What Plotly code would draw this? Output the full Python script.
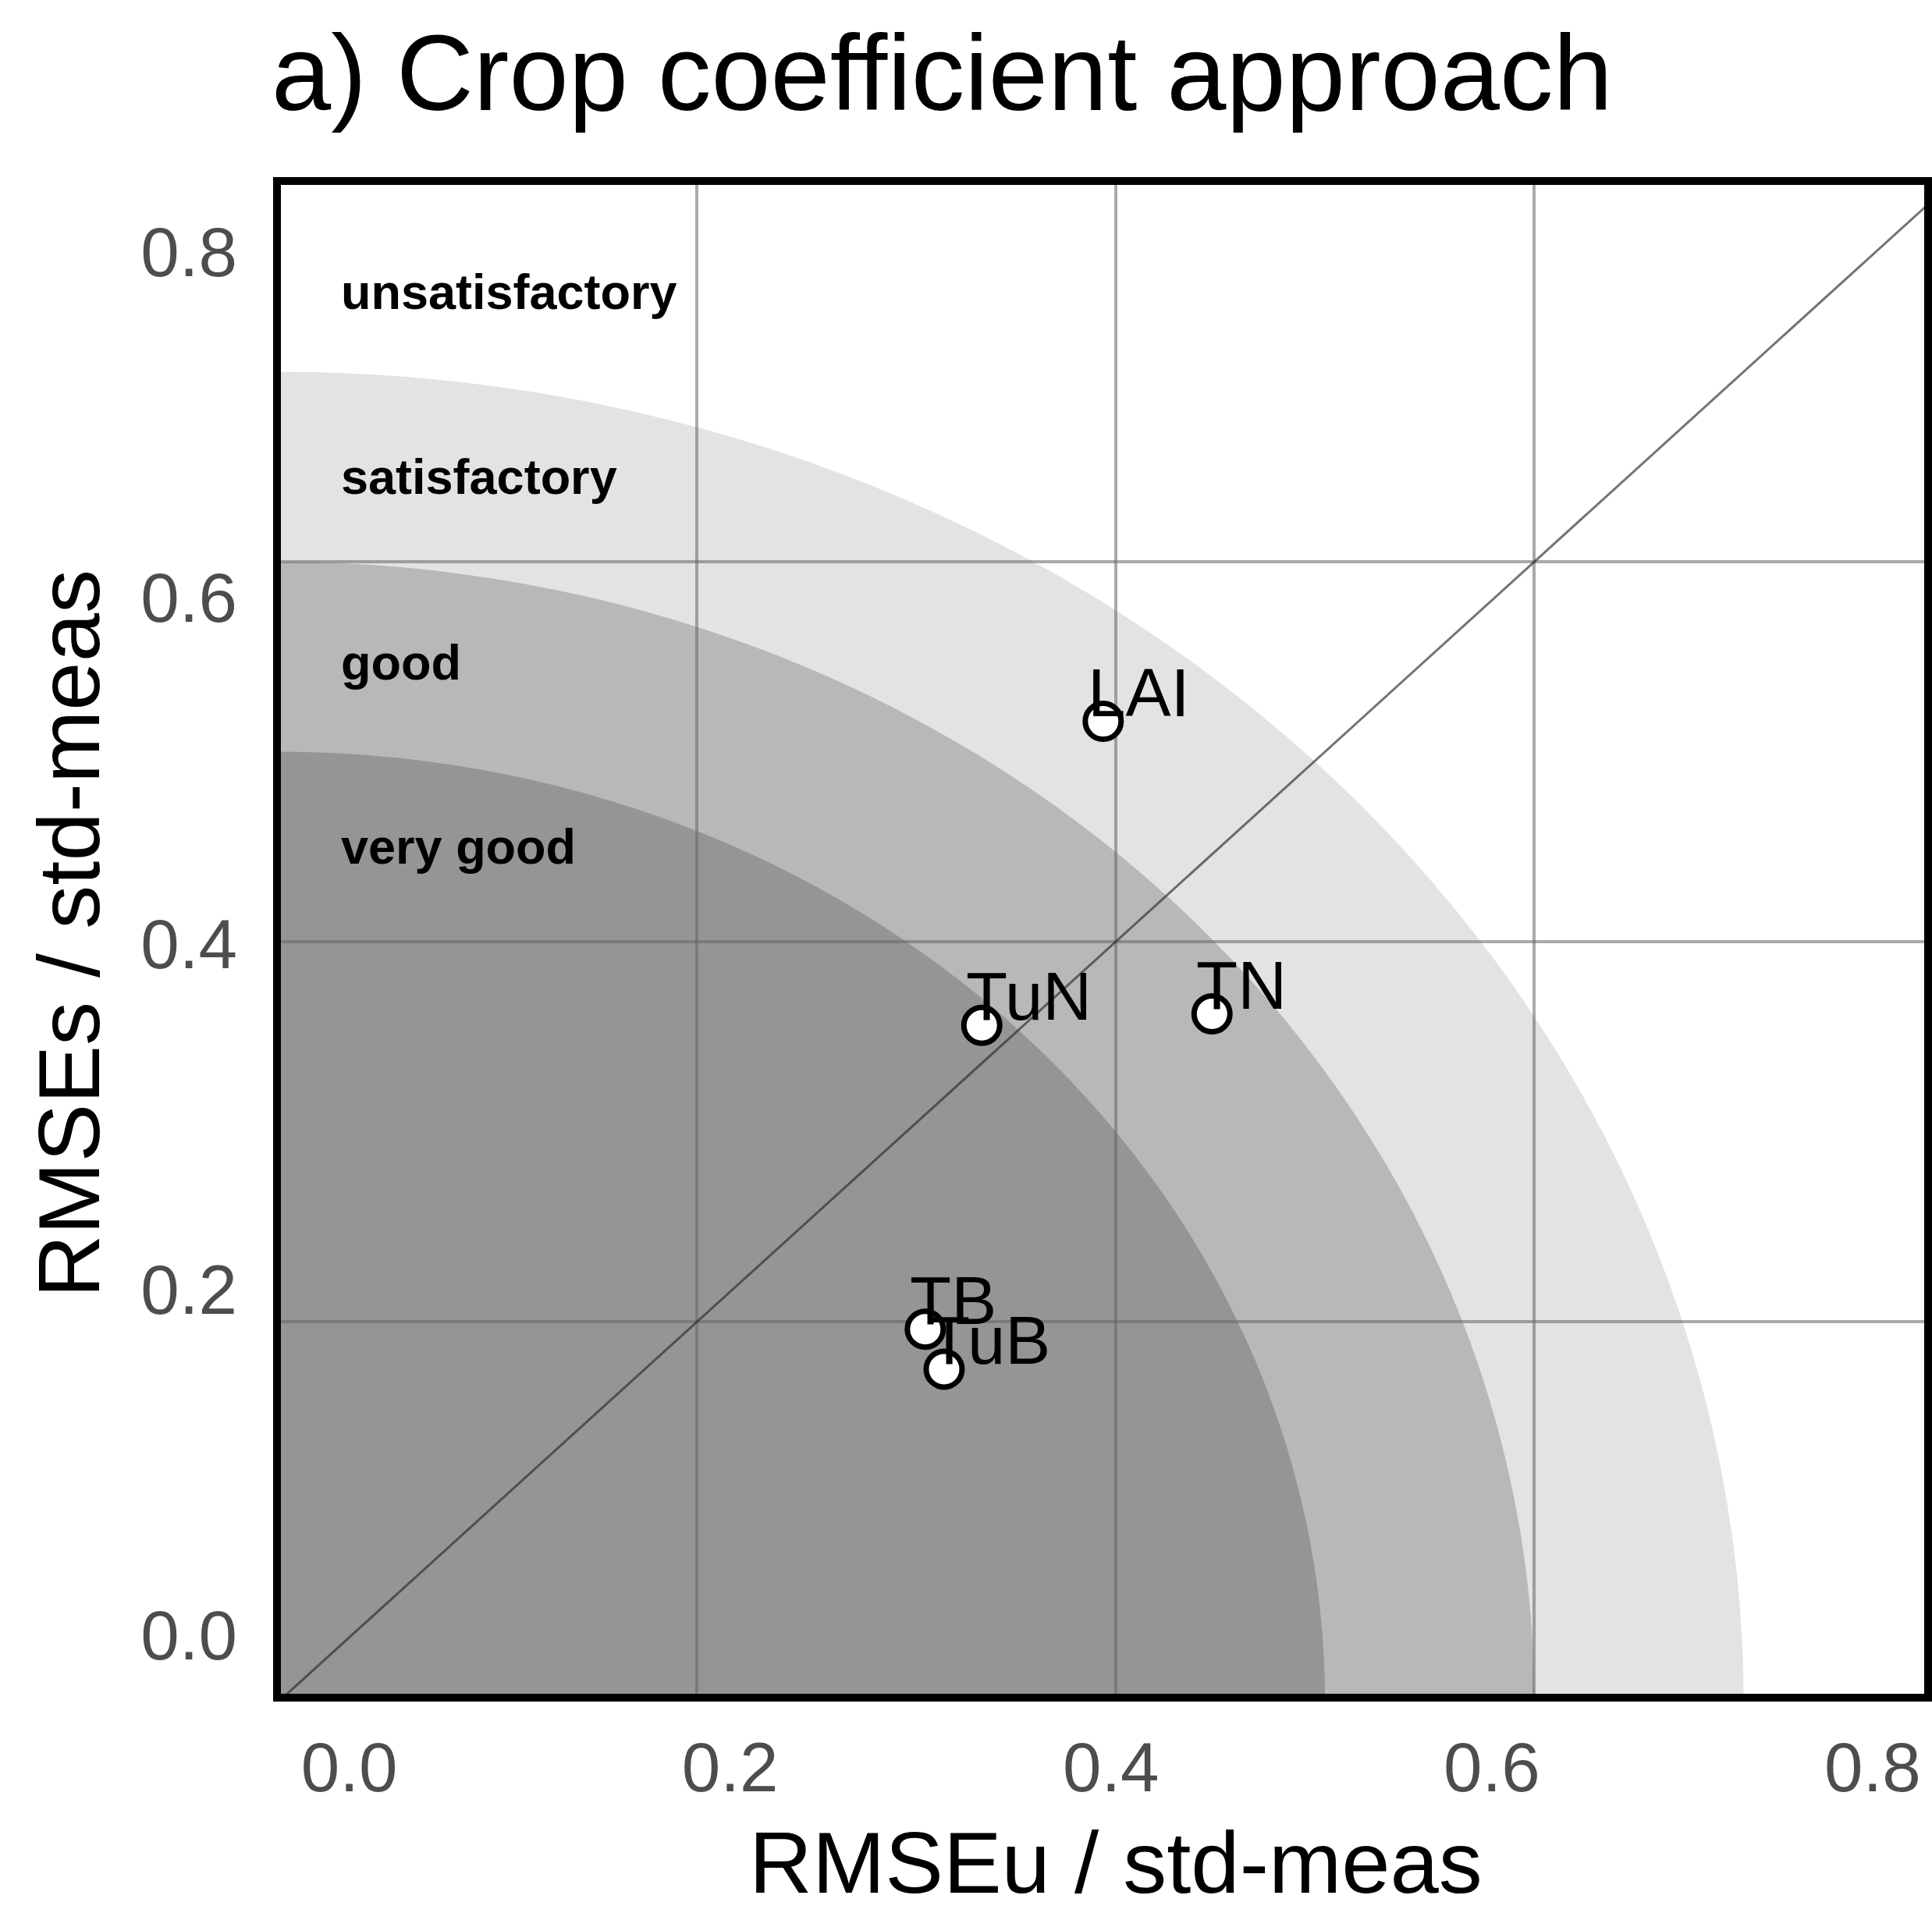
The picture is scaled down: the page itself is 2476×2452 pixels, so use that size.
import plotly.graph_objects as go

# ---------------- data ----------------
labels = ["LAI", "TN", "TuN", "TB", "TuB"]
rmse_u = [0.394, 0.446, 0.336, 0.309, 0.318]   # RMSEu / std-meas
rmse_s = [0.516, 0.362, 0.356, 0.196, 0.175]   # RMSEs / std-meas

band_names = ["unsatisfactory", "satisfactory", "good", "very good"]
band_label_y = [0.742, 0.645, 0.547, 0.450]
band_radius = [0.7, 0.6, 0.5]                  # satisfactory, good, very good limits
band_colors = ["#e3e3e3", "#b8b8b8", "#959595"]

one_to_one = [0, 1]

tick_vals = [0.0, 0.2, 0.4, 0.6, 0.8]
tick_text = ["0.0", "0.2", "0.4", "0.6", "0.8"]

title_text = "a) Crop coefficient approach"
x_title = "RMSEu / std-meas"
y_title = "RMSEs / std-meas"

FONT = "Liberation Sans, Arial, sans-serif"
W, H = 2476, 2452
L, R, T, B = 360, 0, 237, 281

fig = go.Figure()

# 1:1 line
fig.add_trace(go.Scatter(
    x=one_to_one, y=one_to_one, mode="lines",
    line=dict(color="rgba(41,41,41,0.65)", width=3),
    hoverinfo="skip", showlegend=False))

# points
fig.add_trace(go.Scatter(
    x=rmse_u, y=rmse_s, mode="markers",
    marker=dict(size=46, color="white", line=dict(color="black", width=7)),
    text=labels, showlegend=False))

# dummy trace for the label axes
fig.add_trace(go.Scatter(x=[], y=[], xaxis="x2", yaxis="y2",
                         showlegend=False, hoverinfo="skip"))

# performance bands (quarter circles around origin)
for r, c in zip(band_radius, band_colors):
    fig.add_shape(type="circle", xref="x", yref="y",
                  x0=-r, y0=-r, x1=r, y1=r,
                  fillcolor=c, line=dict(width=0), layer="below")

annotations = []
# band labels
for name, yy in zip(band_names, band_label_y):
    annotations.append(dict(
        x=0.029, y=yy, xref="x", yref="y", text=name, showarrow=False,
        xanchor="left", yanchor="middle",
        font=dict(family=FONT, size=63, color="black", weight=700)))

# point labels
for lab, xx, yy in zip(labels, rmse_u, rmse_s):
    annotations.append(dict(
        x=xx, y=yy, xref="x", yref="y", text=lab, showarrow=False,
        xanchor="left", yanchor="bottom", xshift=-22, yshift=-13,
        font=dict(family=FONT, size=87, color="black")))

# axis titles
annotations.append(dict(
    x=0.508, y=-0.1122, xref="paper", yref="paper", text=x_title,
    showarrow=False, xanchor="center", yanchor="middle",
    font=dict(family=FONT, size=112, color="black")))
annotations.append(dict(
    x=-0.129, y=0.504, xref="paper", yref="paper", text=y_title,
    showarrow=False, xanchor="center", yanchor="middle", textangle=-90,
    font=dict(family=FONT, size=112, color="black")))

grid = "rgba(100,100,100,0.55)"

fig.update_layout(
    width=W, height=H,
    margin=dict(l=L, r=R, t=T, b=B, pad=0),
    paper_bgcolor="white", plot_bgcolor="white",
    showlegend=False,
    title=dict(text=title_text, xref="container", x=348 / W, xanchor="left",
               yref="container", y=1 - 93 / H, yanchor="middle",
               font=dict(family=FONT, size=137, color="black")),
    xaxis=dict(range=[0.0011, 0.7863], tick0=0, dtick=0.2,
               showgrid=True, gridcolor=grid, gridwidth=4,
               zeroline=False, showticklabels=False, ticks="",
               showline=True, linecolor="black", linewidth=10, mirror=True),
    yaxis=dict(range=[0.0041, 0.7984], tick0=0, dtick=0.2,
               showgrid=True, gridcolor=grid, gridwidth=4,
               zeroline=False, showticklabels=False, ticks="",
               showline=True, linecolor="black", linewidth=10, mirror=True),
    xaxis2=dict(overlaying="x", anchor="y2", side="bottom",
                range=[-0.0359, 0.8271], tickmode="array",
                tickvals=tick_vals, ticktext=tick_text,
                showgrid=False, zeroline=False, showline=False, ticks="",
                ticklabelstandoff=35,
                tickfont=dict(family=FONT, size=89, color="#4d4d4d")),
    yaxis2=dict(overlaying="y", anchor="x2", side="left",
                range=[-0.0338, 0.8387], tickmode="array",
                tickvals=tick_vals, ticktext=tick_text,
                showgrid=False, zeroline=False, showline=False, ticks="",
                ticklabelstandoff=55,
                tickfont=dict(family=FONT, size=89, color="#4d4d4d")),
    annotations=annotations,
)

fig.write_html(
    "out.html",
    config={"displayModeBar": False},
    post_script="document.body.style.margin='0';"
                "document.body.style.overflow='hidden';",
)
